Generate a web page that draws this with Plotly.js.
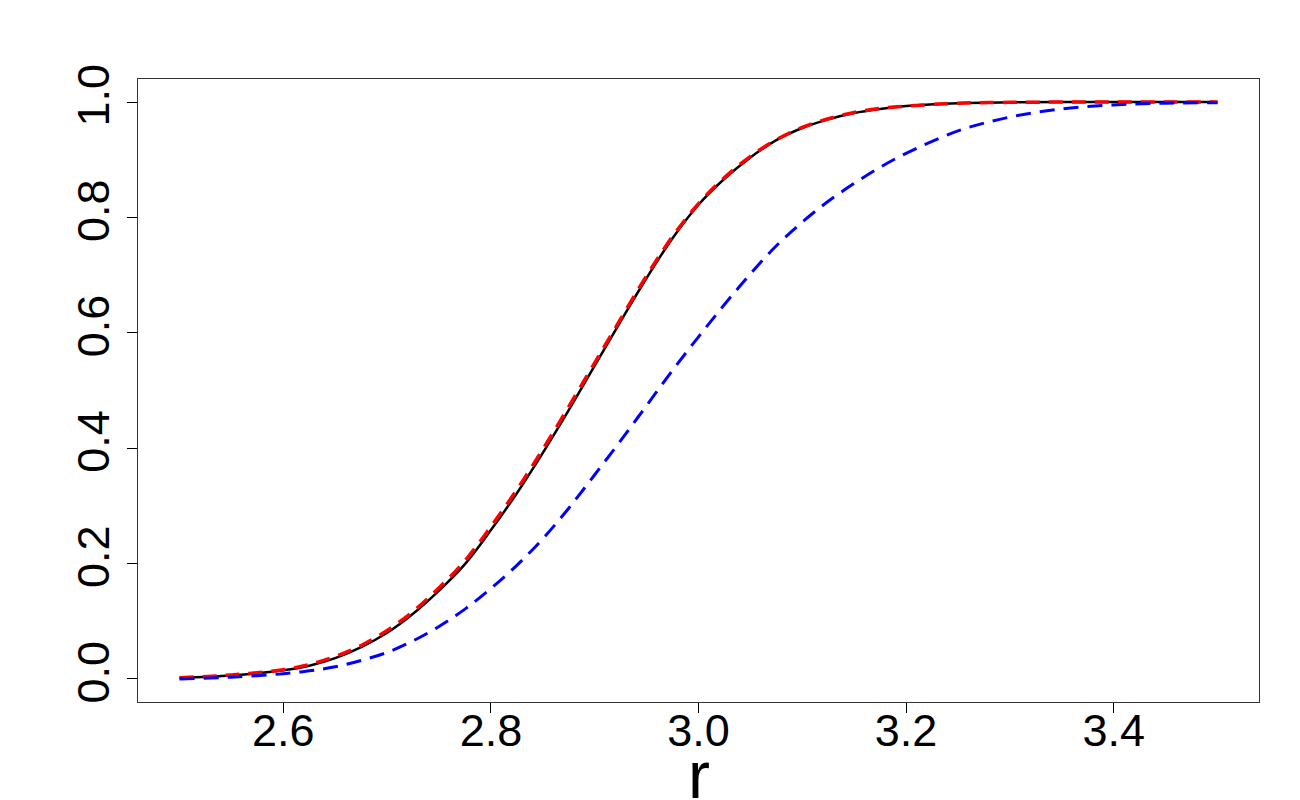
<!DOCTYPE html>
<html>
<head>
<meta charset="utf-8">
<script src="https://cdn.plot.ly/plotly-3.0.1.min.js"></script>
<style>html,body{margin:0;padding:0;background:#fff;}#chart{width:1300px;height:800px;}</style>
</head>
<body>
<div id="chart"></div>
<script>
const r = [2.50, 2.55, 2.60, 2.625, 2.65, 2.675, 2.70, 2.725, 2.75, 2.775, 2.80, 2.825, 2.85, 2.875, 2.90, 2.925, 2.95, 2.975, 3.00, 3.025, 3.05, 3.075, 3.10, 3.125, 3.15, 3.175, 3.20, 3.25, 3.30, 3.35, 3.40, 3.45, 3.50];
const blackValues = [0.002, 0.006, 0.015, 0.023, 0.036, 0.055, 0.080, 0.113, 0.153, 0.199, 0.258, 0.322, 0.392, 0.466, 0.543, 0.620, 0.695, 0.764, 0.822, 0.867, 0.904, 0.934, 0.955, 0.970, 0.981, 0.988, 0.993, 0.998, 0.9995, 1.0, 1.0, 1.0, 1.0];
const redValues = [0.002, 0.007, 0.016, 0.025, 0.039, 0.058, 0.084, 0.117, 0.158, 0.205, 0.264, 0.328, 0.398, 0.472, 0.548, 0.624, 0.699, 0.767, 0.824, 0.869, 0.906, 0.935, 0.956, 0.971, 0.982, 0.989, 0.993, 0.998, 0.9995, 1.0, 1.0, 1.0, 1.0];
const blueValues = [0.000, 0.003, 0.009, 0.014, 0.021, 0.032, 0.046, 0.066, 0.091, 0.121, 0.157, 0.197, 0.243, 0.296, 0.354, 0.413, 0.474, 0.535, 0.593, 0.649, 0.702, 0.751, 0.792, 0.828, 0.859, 0.887, 0.911, 0.950, 0.974, 0.988, 0.995, 0.998, 0.999];
const xTicks = [2.6, 2.8, 3.0, 3.2, 3.4];
const xTickLabels = ["2.6", "2.8", "3.0", "3.2", "3.4"];
const yTicks = [0.0, 0.2, 0.4, 0.6, 0.8, 1.0];
const yTickLabels = ["0.0", "0.2", "0.4", "0.6", "0.8", "1.0"];
const xTitle = "r";

const FONT = "'Liberation Sans', Arial, Helvetica, sans-serif";

const traces = [
  {x: r, y: blackValues, mode: 'lines', line: {color: '#000000', width: 2.5, shape: 'spline', smoothing: 1}, showlegend: false, hoverinfo: 'skip'},
  {x: r, y: redValues, mode: 'lines', line: {color: '#ff0000', width: 3.5, dash: '14px,9px', shape: 'spline', smoothing: 1}, showlegend: false, hoverinfo: 'skip'},
  {x: r, y: blueValues, mode: 'lines', line: {color: '#0000ff', width: 3, dash: '15px,9px', shape: 'spline', smoothing: 1}, showlegend: false, hoverinfo: 'skip'}
];

const layout = {
  width: 1300, height: 800,
  margin: {l: 138, r: 41, t: 79, b: 98, pad: 0},
  paper_bgcolor: '#ffffff', plot_bgcolor: '#ffffff',
  showlegend: false,
  font: {family: FONT, color: '#000000'},
  xaxis: {
    range: [2.46, 3.54], tickmode: 'array', tickvals: xTicks, ticktext: xTickLabels,
    ticks: 'outside', ticklen: 10, tickwidth: 1, tickcolor: '#000',
    showline: true, linecolor: '#333', linewidth: 1, mirror: true,
    showgrid: false, zeroline: false,
    tickfont: {size: 45, family: FONT, color: '#000'},
    ticklabelstandoff: -21,
    automargin: false
  },
  yaxis: {
    range: [-0.04, 1.04], tickmode: 'array', tickvals: yTicks, ticktext: yTickLabels,
    ticks: 'outside', ticklen: 10, tickwidth: 1, tickcolor: '#000',
    showline: true, linecolor: '#333', linewidth: 1, mirror: true,
    showgrid: false, zeroline: false,
    tickangle: -90,
    tickfont: {size: 45, family: FONT, color: '#000'},
    ticklabelstandoff: 0,
    automargin: false
  },
  annotations: [
    {text: xTitle, xref: 'paper', yref: 'paper', x: 0.5, y: -0.117, xanchor: 'center', yanchor: 'middle',
     showarrow: false, font: {size: 66, family: FONT, color: '#000'}}
  ]
};

Plotly.newPlot('chart', traces, layout, {staticPlot: true, displayModeBar: false});
</script>
</body>
</html>
